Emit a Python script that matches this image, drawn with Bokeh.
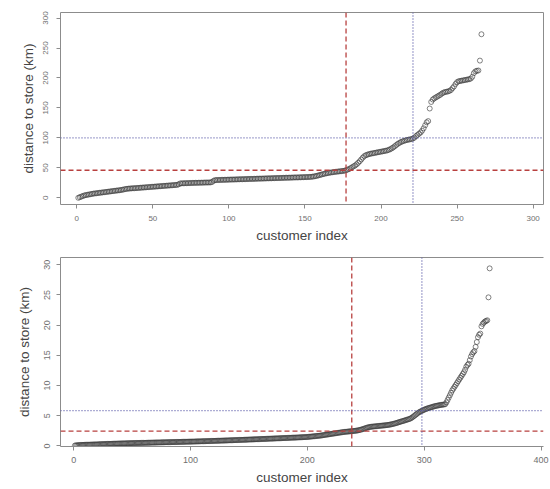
from bokeh.plotting import figure
from bokeh.models import Span, FixedTicker, LinearAxis, Range1d
from bokeh.layouts import column
from bokeh.embed import file_html
from bokeh.resources import INLINE

# ---------------- data ----------------
# Panel 1: sorted distance to store (km), one value per customer
top_dist = [
    0, 1, 2, 3, 4, 4.5, 5, 5.5, 6, 6.5,
    7, 7.3, 7.6, 8, 8.3, 8.6, 9, 9.3, 9.6, 10,
    10.3, 10.6, 11, 11.3, 11.6, 12, 12.3, 12.6, 13, 13.4,
    14, 14.6, 15, 15.3, 15.5, 15.7, 15.9, 16, 16.2, 16.4,
    16.6, 16.8, 17, 17.2, 17.4, 17.6, 17.8, 18, 18.2, 18.4,
    18.6, 18.8, 19, 19.2, 19.4, 19.6, 19.8, 20, 20.2, 20.4,
    20.6, 20.8, 21, 21.2, 21.4, 21.6, 22.5, 24, 24.1, 24.2,
    24.3, 24.4, 24.5, 24.6, 24.7, 24.8, 24.9, 25, 25, 25.1,
    25.2, 25.2, 25.3, 25.4, 25.5, 25.5, 25.6, 25.7, 26.5, 28.5,
    29.5, 29.6, 29.7, 29.8, 29.9, 30, 30, 30.1, 30.2, 30.3,
    30.4, 30.5, 30.5, 30.6, 30.7, 30.8, 30.9, 31, 31, 31.1,
    31.2, 31.3, 31.4, 31.5, 31.5, 31.6, 31.7, 31.8, 31.9, 32,
    32, 32.1, 32.2, 32.3, 32.4, 32.5, 32.5, 32.6, 32.7, 32.8,
    32.9, 33, 33, 33.1, 33.2, 33.3, 33.4, 33.5, 33.5, 33.6,
    33.7, 33.8, 33.9, 34, 34, 34.1, 34.2, 34.3, 34.4, 34.5,
    34.6, 34.7, 34.8, 35, 35.3, 35.7, 36.2, 36.8, 37.5, 38.2,
    38.9, 39.6, 40.2, 40.8, 41.3, 41.8, 42.2, 42.6, 43, 43.3,
    43.6, 43.9, 44.2, 44.5, 44.8, 45.2, 46, 47, 48, 49.5,
    51, 52.5, 54, 56, 58.5, 61, 64, 67, 69.5, 71,
    72, 72.8, 73.5, 74, 74.5, 75, 75.5, 76, 76.5, 77,
    77.5, 78, 78.5, 79, 80, 81, 82.5, 84, 86, 88,
    90, 91.5, 93, 94, 95, 95.8, 96.5, 97, 97.5, 98,
    99, 100.5, 103, 105, 107, 109, 112, 116, 121, 126,
    128, 149, 160, 164, 166, 167.5, 169, 170.5, 172, 174,
    175.5, 176.5, 177, 177.5, 178.5, 180, 183, 186, 190, 193,
    194.5, 195, 195.5, 196, 196.5, 197, 197.5, 198, 199, 202,
    208, 211, 212, 212.5, 229, 273,
]
top_idx = list(range(1, len(top_dist) + 1))
top_red_x, top_red_y = 177, 46      # red dashed reference lines
top_blue_x, top_blue_y = 221, 100   # blue dotted reference lines
top_xticks = [0, 50, 100, 150, 200, 250, 300]
top_yticks = [0, 50, 100, 150, 200, 250, 300]

# Panel 2
bot_dist = [
    0.05, 0.1, 0.1, 0.12, 0.14, 0.15, 0.16, 0.17, 0.18, 0.18,
    0.19, 0.2, 0.2, 0.21, 0.22, 0.22, 0.23, 0.24, 0.24, 0.25,
    0.26, 0.27, 0.28, 0.29, 0.3, 0.3, 0.31, 0.32, 0.33, 0.33,
    0.34, 0.35, 0.35, 0.36, 0.37, 0.37, 0.38, 0.39, 0.39, 0.4,
    0.4, 0.41, 0.42, 0.42, 0.43, 0.43, 0.44, 0.45, 0.45, 0.46,
    0.46, 0.47, 0.47, 0.48, 0.48, 0.49, 0.49, 0.5, 0.5, 0.51,
    0.51, 0.52, 0.52, 0.53, 0.53, 0.54, 0.54, 0.55, 0.55, 0.56,
    0.56, 0.57, 0.57, 0.58, 0.58, 0.59, 0.59, 0.6, 0.6, 0.61,
    0.61, 0.62, 0.62, 0.63, 0.63, 0.64, 0.64, 0.65, 0.65, 0.66,
    0.66, 0.67, 0.67, 0.68, 0.68, 0.69, 0.69, 0.7, 0.7, 0.71,
    0.71, 0.72, 0.72, 0.73, 0.74, 0.74, 0.75, 0.75, 0.76, 0.77,
    0.77, 0.78, 0.78, 0.79, 0.8, 0.8, 0.81, 0.82, 0.82, 0.83,
    0.84, 0.84, 0.85, 0.86, 0.86, 0.87, 0.88, 0.88, 0.89, 0.9,
    0.9, 0.91, 0.92, 0.93, 0.93, 0.94, 0.95, 0.96, 0.96, 0.97,
    0.98, 0.99, 0.99, 1.0, 1.01, 1.02, 1.02, 1.03, 1.04, 1.05,
    1.06, 1.06, 1.07, 1.08, 1.09, 1.1, 1.1, 1.11, 1.12, 1.13,
    1.14, 1.15, 1.15, 1.16, 1.17, 1.18, 1.19, 1.2, 1.2, 1.21,
    1.22, 1.23, 1.24, 1.25, 1.25, 1.26, 1.27, 1.28, 1.29, 1.3,
    1.31, 1.31, 1.32, 1.33, 1.34, 1.35, 1.36, 1.37, 1.37, 1.38,
    1.39, 1.4, 1.41, 1.42, 1.43, 1.44, 1.45, 1.46, 1.47, 1.48,
    1.5, 1.52, 1.54, 1.56, 1.58, 1.6, 1.62, 1.64, 1.66, 1.68,
    1.7, 1.73, 1.76, 1.79, 1.82, 1.85, 1.88, 1.91, 1.94, 1.97,
    2.0, 2.03, 2.06, 2.09, 2.12, 2.15, 2.18, 2.21, 2.24, 2.27,
    2.3, 2.32, 2.34, 2.36, 2.38, 2.4, 2.42, 2.44, 2.46, 2.48,
    2.5, 2.53, 2.56, 2.6, 2.65, 2.7, 2.76, 2.82, 2.88, 2.95,
    3.02, 3.08, 3.12, 3.15, 3.18, 3.2, 3.22, 3.24, 3.26, 3.28,
    3.3, 3.32, 3.34, 3.36, 3.38, 3.4, 3.42, 3.44, 3.47, 3.5,
    3.54, 3.58, 3.62, 3.67, 3.72, 3.78, 3.84, 3.9, 3.96, 4.02,
    4.08, 4.14, 4.2, 4.26, 4.32, 4.38, 4.44, 4.52, 4.62, 4.75,
    4.9, 5.05, 5.2, 5.35, 5.5, 5.62, 5.72, 5.8, 5.9, 6.0,
    6.08, 6.15, 6.22, 6.28, 6.34, 6.4, 6.46, 6.52, 6.57, 6.62,
    6.66, 6.7, 6.74, 6.78, 6.8, 6.83, 6.86, 6.9, 7.2, 7.6,
    8.0, 8.4, 8.8, 9.2, 9.5, 9.8, 10.1, 10.4, 10.7, 11.0,
    11.3, 11.6, 11.9, 12.2, 12.6, 13.1, 13.4, 13.6, 14.2, 14.8,
    15.2, 15.5, 15.7, 16.4, 17.2, 18.0, 18.4, 18.6, 19.8, 20.2,
    20.4, 20.6, 20.7, 20.8, 24.6, 29.4,
]
bot_idx = list(range(1, len(bot_dist) + 1))
bot_red_x, bot_red_y = 238, 2.45
bot_blue_x, bot_blue_y = 298, 5.85
bot_xticks = [0, 100, 200, 300, 400]
bot_yticks = [0, 5, 10, 15, 20, 25, 30]

x_title = "customer index"
y_title = "distance to store (km)"

# ---------------- style ----------------
FONT = "Liberation Sans"
GREY = "#8c8c8c"
RED = "#b8403f"
BLUE = "#5a5aa8"
PT = "#3a3a3a"
TITLE_COLOR = "#454545"


def style_axis(ax, ticks, label_size, standoff, title, title_standoff):
    ax.ticker = FixedTicker(ticks=ticks)
    ax.axis_line_color = GREY
    ax.major_tick_line_color = GREY
    ax.major_tick_out = 4
    ax.major_tick_in = 0
    ax.minor_tick_line_color = None
    ax.minor_tick_out = 0
    ax.major_label_text_font = FONT
    ax.major_label_text_font_size = f"{label_size}px"
    ax.major_label_text_color = "#707070"
    ax.major_label_standoff = standoff
    ax.axis_label = title
    ax.axis_label_text_font = FONT
    ax.axis_label_text_font_size = "13.5px"
    ax.axis_label_text_font_style = "normal"
    ax.axis_label_text_color = TITLE_COLOR
    ax.axis_label_standoff = title_standoff


def frame_axis(p, side):
    ax = LinearAxis(ticker=FixedTicker(ticks=[]), axis_line_color=GREY,
                    major_tick_line_color=None, minor_tick_line_color=None,
                    major_tick_out=0, major_tick_in=0, minor_tick_out=0,
                    minor_tick_in=0, major_label_standoff=0,
                    major_label_text_font_size="0px")
    p.add_layout(ax, side)


def make_panel(p, xs, ys, xticks, yticks, redx, redy, bluex, bluey,
               label_size, xstand, ystand, right_frame):
    p.grid.visible = False
    p.outline_line_color = None
    p.background_fill_color = "white"
    p.border_fill_color = "white"
    style_axis(p.xaxis[0], xticks, label_size, xstand[0], x_title, xstand[1])
    style_axis(p.yaxis[0], yticks, label_size, ystand[0], y_title, ystand[1])
    p.yaxis[0].major_label_orientation = "vertical"
    frame_axis(p, "above")
    if right_frame:
        frame_axis(p, "right")

    p.scatter(xs, ys, marker="circle", size=5, fill_color=None,
              line_color=PT, line_width=0.75, line_alpha=0.85)

    p.add_layout(Span(location=redx, dimension="height", line_color=RED,
                      line_dash="5 3", line_width=1.3))
    p.add_layout(Span(location=redy, dimension="width", line_color=RED,
                      line_dash="5 3", line_width=1.3))
    p.add_layout(Span(location=bluex, dimension="height", line_color=BLUE,
                      line_dash="1 2", line_width=1.3))
    p.add_layout(Span(location=bluey, dimension="width", line_color=BLUE,
                      line_dash="1 2", line_width=1.3))
    return p


p1 = figure(frame_width=483, frame_height=192,
            x_range=Range1d(-10.7, 306.8), y_range=Range1d(-11.2, 309.3),
            output_backend="svg", toolbar_location=None,
            min_border_left=60, min_border_right=7,
            min_border_top=12, min_border_bottom=34)
make_panel(p1, top_idx, top_dist, top_xticks, top_yticks,
           top_red_x, top_red_y, top_blue_x, top_blue_y,
           8, (7, 4), (8, 5), True)

p2 = figure(width=550, height=242,
            x_range=Range1d(-11.3, 402.1), y_range=Range1d(-0.1, 31.2),
            output_backend="svg", toolbar_location=None,
            min_border_left=55, min_border_right=0,
            min_border_top=12, min_border_bottom=34)
make_panel(p2, bot_idx, bot_dist, bot_xticks, bot_yticks,
           bot_red_x, bot_red_y, bot_blue_x, bot_blue_y,
           9, (6, 4), (6, 10), False)

layout = column(p1, p2, spacing=0)
open("out.html", "w").write(file_html(layout, INLINE))
